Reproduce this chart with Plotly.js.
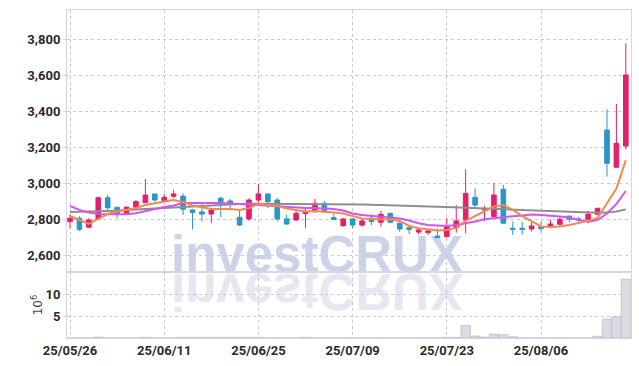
<!DOCTYPE html>
<html><head><meta charset="utf-8">
<script src="https://cdn.plot.ly/plotly-3.0.1.min.js"></script>
<style>html,body{margin:0;padding:0;background:#fff}#chart{width:639px;height:366px}</style>
</head><body><div id="chart"></div>
<script>
const dates = ["25/05/26","25/05/27","25/05/28","25/05/29","25/05/30","25/06/02","25/06/04","25/06/05","25/06/09","25/06/10","25/06/11","25/06/12","25/06/13","25/06/16","25/06/17","25/06/18","25/06/19","25/06/20","25/06/23","25/06/24","25/06/25","25/06/26","25/06/27","25/06/30","25/07/01","25/07/02","25/07/03","25/07/04","25/07/07","25/07/08","25/07/09","25/07/10","25/07/11","25/07/14","25/07/15","25/07/16","25/07/17","25/07/18","25/07/21","25/07/22","25/07/23","25/07/24","25/07/25","25/07/28","25/07/29","25/07/30","25/07/31","25/08/01","25/08/04","25/08/05","25/08/06","25/08/07","25/08/08","25/08/11","25/08/12","25/08/13","25/08/14","25/08/18","25/08/19","25/08/20"];
const openP  = [2787,2806,2756,2802,2920,2867,2828,2867,2892,2941,2903,2928,2929,2852,2841,2829,2917,2902,2811,2802,2907,2941,2907,2802,2796,2831,2842,2889,2809,2764,2802,2768,2806,2783,2833,2778,2753,2729,2726,2707,2703,2753,2796,2922,2852,2814,2967,2750,2750,2746,2759,2759,2772,2818,2802,2800,2828,3296,3089,3207];
const highP  = [2828,2817,2807,2925,2935,2868,2872,2907,3024,2941,2941,2963,2944,2856,2892,2852,2926,2913,2848,2917,2996,2941,2917,2824,2852,2864,2913,2902,2833,2806,2806,2806,2828,2846,2837,2783,2759,2753,2744,2750,2806,2879,3078,2972,2874,3000,2991,2787,2785,2785,2787,2796,2814,2818,2814,2846,2864,3411,3441,3778];
const lowP   = [2750,2734,2752,2796,2846,2807,2824,2861,2889,2898,2894,2917,2824,2744,2787,2781,2811,2848,2763,2792,2892,2861,2787,2768,2791,2753,2839,2839,2796,2759,2750,2759,2768,2759,2778,2731,2718,2718,2713,2698,2700,2726,2722,2856,2791,2814,2778,2713,2715,2731,2731,2750,2763,2781,2781,2778,2824,3037,3089,3189];
const closeP = [2806,2744,2796,2920,2864,2831,2867,2898,2935,2907,2922,2941,2856,2837,2829,2852,2898,2885,2768,2907,2941,2898,2802,2774,2833,2842,2889,2842,2798,2802,2768,2791,2787,2828,2783,2746,2744,2741,2735,2698,2759,2791,2944,2879,2860,2935,2778,2745,2745,2763,2748,2774,2800,2800,2796,2828,2861,3111,3222,3602];
const ma5  = [2818,2796,2774,2802,2829,2843,2852,2863,2879,2891,2899,2907,2896,2877,2866,2857,2857,2857,2852,2863,2885,2879,2874,2860,2852,2843,2846,2843,2838,2832,2816,2804,2802,2802,2799,2791,2763,2750,2743,2738,2741,2752,2791,2818,2843,2871,2879,2852,2818,2791,2760,2757,2760,2768,2779,2791,2807,2890,2971,3129];
const ma20 = [2874,2852,2837,2829,2828,2828,2828,2833,2843,2857,2868,2877,2891,2892,2892,2892,2891,2888,2885,2882,2879,2874,2870,2868,2866,2863,2863,2861,2857,2849,2832,2824,2818,2813,2809,2804,2793,2778,2768,2764,2763,2768,2777,2788,2800,2807,2813,2817,2821,2827,2824,2821,2816,2810,2796,2787,2796,2832,2885,2957];
const ma60 = [2840,2841,2842,2843,2845,2848,2851,2854,2857,2860,2864,2868,2871,2874,2877,2880,2882,2884,2885,2886,2886,2886,2886,2886,2886,2885,2885,2884,2884,2884,2883,2882,2881,2880,2879,2877,2876,2874,2872,2870,2868,2866,2864,2862,2860,2858,2856,2853,2851,2849,2846,2844,2842,2840,2838,2837,2836,2837,2843,2855];
const volume = [0.02,0.02,0.02,0.2,0.02,0.02,0.02,0.02,0.15,0.02,0.02,0.02,0.15,0.15,0.15,0.15,0.15,0.15,0.15,0.15,0.15,0.02,0.02,0.02,0.02,0.15,0.02,0.02,0.02,0.02,0.02,0.02,0.02,0.02,0.02,0.02,0.02,0.02,0.02,0.02,0.15,0.15,2.85,0.45,0.2,0.9,0.75,0.3,0.02,0.02,0.02,0.02,0.02,0.02,0.02,0.02,0.4,4.3,4.85,13.4];
const priceTicks = [2600,2800,3000,3200,3400,3600,3800];
const volTicks = [5,10];
const dateTickIdx = [0,10,20,30,40,50];
const watermark = "investCRUX";

const tickFont = {family:"Roboto, 'DejaVu Sans Condensed', sans-serif", size:13, color:'#2b2b2b', weight:'bold'};
const gridC = '#c9c9d9';
const lineC = '#d6d6e2';

const traces = [
  {type:'bar', x:dates, y:volume, xaxis:'x', yaxis:'y2',
   marker:{color:'#dadae2', line:{color:'#b5b5c0', width:0.6}}, hoverinfo:'skip'},
  {type:'scatter', mode:'lines', x:dates, y:ma60, line:{color:'#8e8e8e', width:2}, xaxis:'x', yaxis:'y'},
  {type:'scatter', mode:'lines', x:dates, y:ma20, line:{color:'#d256ee', width:2}, xaxis:'x', yaxis:'y'},
  {type:'scatter', mode:'lines', x:dates, y:ma5, line:{color:'#f08a4f', width:2}, xaxis:'x', yaxis:'y'},
  {type:'candlestick', x:dates, open:openP, high:highP, low:lowP, close:closeP, xaxis:'x', yaxis:'y',
   increasing:{line:{color:'#e51f6d', width:1}, fillcolor:'#e51f6d'},
   decreasing:{line:{color:'#2b95c7', width:1}, fillcolor:'#2b95c7'}}
];

const layout = {
  width:639, height:366,
  margin:{l:67, r:8, t:10, b:28},
  paper_bgcolor:'#ffffff', plot_bgcolor:'rgba(0,0,0,0)',
  showlegend:false, bargap:0,
  xaxis:{type:'category', anchor:'y2', range:[-0.32,59.55],
    tickvals:dateTickIdx.map(i=>dates[i]), ticktext:dateTickIdx.map(i=>dates[i]),
    showgrid:true, gridcolor:gridC, griddash:'dot', gridwidth:1,
    showline:true, linecolor:lineC, linewidth:1, mirror:'all',
    ticks:'', tickfont:tickFont, rangeslider:{visible:false}, zeroline:false},
  yaxis:{domain:[0.2012,1], range:[2507,3963], tickvals:priceTicks, tickformat:',',
    showgrid:true, gridcolor:gridC, griddash:'dot', gridwidth:1,
    showline:true, linecolor:lineC, mirror:true, ticks:'outside', ticklen:3, tickcolor:lineC,
    tickfont:tickFont, zeroline:false},
  yaxis2:{domain:[0,0.2012], range:[0,15], tickvals:volTicks,
    showgrid:true, gridcolor:gridC, griddash:'dot', gridwidth:1,
    showline:true, linecolor:lineC, mirror:true, ticks:'outside', ticklen:3, tickcolor:lineC,
    tickfont:tickFont, zeroline:false,
    title:{text:'10<sup>6</sup>', font:{family:'DejaVu Sans', size:12, color:'#444'}, standoff:0}},
  annotations:[
    {xref:'paper', yref:'paper', x:0.443, y:0.163, xanchor:'center', yanchor:'bottom',
     text:watermark, showarrow:false, font:{family:'Liberation Sans', size:51, color:'#ccd2e8', weight:'bold'}},
    {xref:'paper', yref:'paper', x:0.443, y:0.154, xanchor:'center', yanchor:'bottom',
     text:watermark, showarrow:false, font:{family:'Liberation Sans', size:51, color:'#e6e7f0', weight:'bold'}}
  ]
};

Plotly.newPlot('chart', traces, layout, {staticPlot:true}).then(gd => {
  const below = gd.querySelector('.main-svg .layer-below');
  const anns = Array.from(gd.querySelectorAll('.infolayer g.annotation'));
  if (below) anns.forEach(a => below.appendChild(a));
  if (anns[1]) {
    const t = anns[1].querySelector('text');
    const bb = t.getBBox();
    const base = bb.y + bb.height * 0.81;
    t.setAttribute('transform', 'translate(0,' + (2*base) + ') scale(1,-1)');
  }
});
</script>
</body></html>
